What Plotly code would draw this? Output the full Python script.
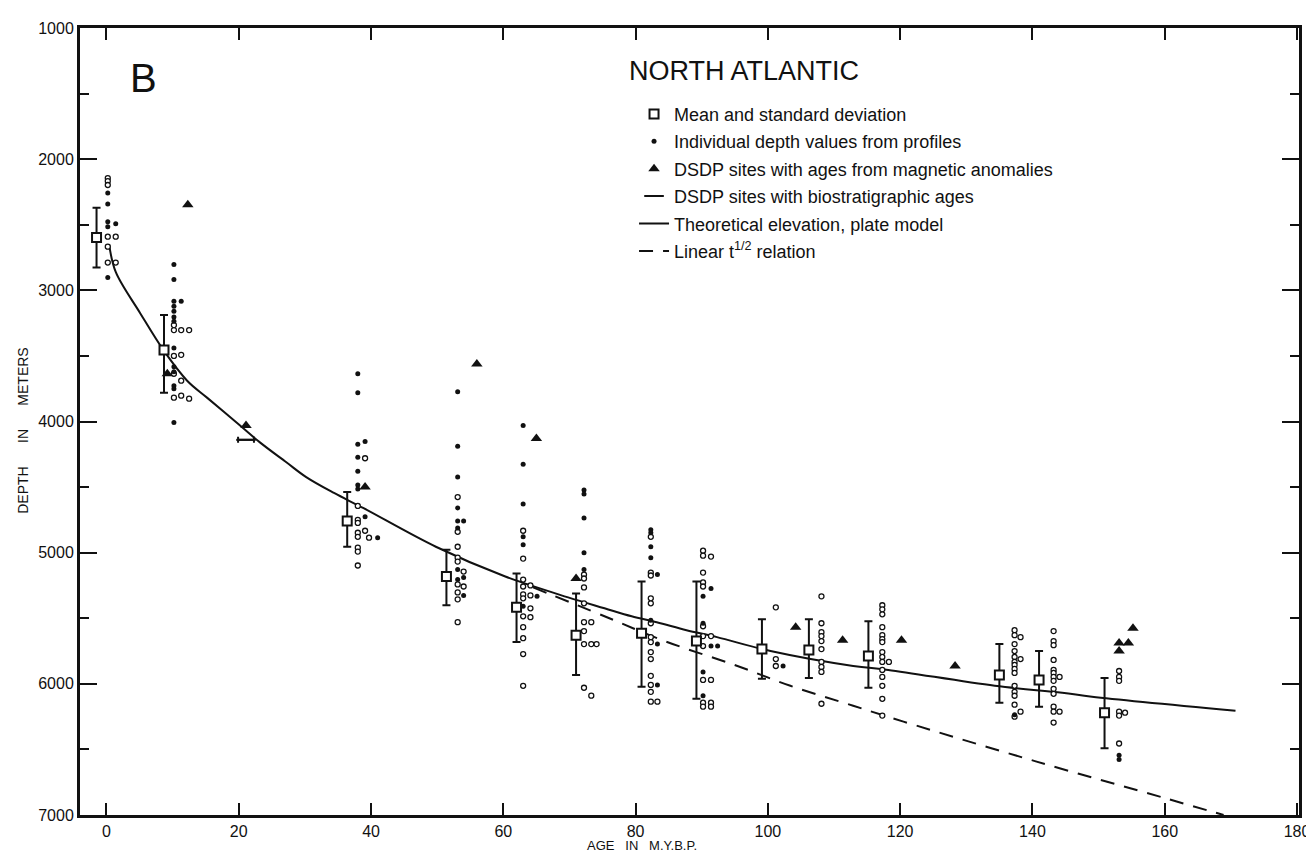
import plotly.graph_objects as go

# ---------------- data ----------------
# Mean and standard deviation (age in m.y., depth in m)
mean_age = [-1.5, 8.7, 36.4, 51.4, 62.0, 71.0, 80.9, 89.2, 99.1, 106.2, 115.2, 135.0, 141.0, 150.9]
mean_depth = [2598, 3455, 4758, 5182, 5417, 5629, 5614, 5674, 5735, 5742, 5788, 5932, 5970, 6220]
sd_top = [2371, 3189, 4538, 4977, 5159, 5311, 5220, 5220, 5508, 5508, 5523, 5697, 5750, 5955]
sd_bottom = [2826, 3780, 4955, 5401, 5682, 5932, 6023, 6114, 5962, 5955, 6030, 6144, 6174, 6492]

# Individual depth values from profiles (filled dots), grouped by column age
filled_col_age = [0.2, 1.4, 10.2, 11.3, 38.0, 39.1, 41.0, 53.1, 54.0, 63.0, 65.1, 72.2,
                  82.3, 83.3, 90.2, 91.4, 92.4, 102.3, 137.3, 153.1]
filled_col_depth = [
    [2258, 2341, 2477, 2515, 2902],
    [2492],
    [2803, 2917, 3083, 3121, 3159, 3204, 3235, 3439, 3583, 3621, 3727, 3750, 4008],
    [3083],
    [3636, 3780, 4174, 4273, 4379, 4485, 4515],
    [4152, 4727],
    [4886],
    [3773, 4189, 4424, 4659, 4758, 4811, 5129, 5205],
    [4758, 5189, 5326],
    [4030, 4326, 4629, 4879, 4939, 5409],
    [5333],
    [4523, 4553, 4735, 5000, 5129],
    [4826, 4848, 4955, 5038, 5515],
    [5167, 5697, 6008],
    [5333, 5538, 5909, 6091],
    [5273, 5712],
    [5712],
    [5864],
    [6235],
    [6545, 6576],
]

# Individual depth values from profiles (open dots), grouped by column age
open_col_age = [0.2, 1.4, 10.2, 11.3, 12.5, 38.0, 39.1, 39.7, 53.1, 54.0, 63.0, 64.1, 72.2,
                73.3, 74.1, 82.3, 83.3, 90.2, 91.4, 101.2, 108.1, 117.3, 118.3, 137.3,
                138.2, 143.2, 144.1, 153.1, 154.0]
open_col_depth = [
    [2144, 2167, 2197, 2591, 2667, 2788],
    [2591, 2788],
    [3265, 3303, 3500, 3636, 3818],
    [3303, 3492, 3689, 3803],
    [3303, 3826],
    [4644, 4750, 4773, 4848, 4879, 4962, 4992, 5098],
    [4280, 4833],
    [4886],
    [4576, 4841, 4955, 5038, 5068, 5242, 5303, 5356, 5530],
    [5144, 5258],
    [4833, 5045, 5205, 5258, 5318, 5348, 5485, 5568, 5652, 5773, 6015],
    [5250, 5326, 5424, 5492],
    [5167, 5197, 5265, 5386, 5530, 5598, 5697, 6030],
    [5530, 5697, 6090],
    [5697],
    [4879, 5152, 5174, 5348, 5386, 5538, 5644, 5682, 5758, 5811, 5939, 6008, 6061, 6136],
    [6136],
    [4985, 5023, 5152, 5227, 5258, 5561, 5636, 5712, 5970, 6144, 6174],
    [5030, 5636, 5970, 6144, 6174],
    [5417, 5811, 5864],
    [5333, 5538, 5606, 5636, 5674, 5735, 5833, 5871, 5909, 6152],
    [5401, 5432, 5470, 5568, 5629, 5659, 5682, 5758, 5795, 5833, 5894, 5947, 6015, 6114, 6242],
    [5833],
    [5591, 5629, 5697, 5750, 5795, 5833, 5856, 5886, 5917, 6015, 6061, 6091, 6159, 6250],
    [5644, 5811, 6212],
    [5598, 5674, 5705, 5818, 5894, 5917, 5947, 5977, 6038, 6076, 6174, 6212, 6295],
    [5947, 6212],
    [5902, 5947, 5977, 6212, 6242, 6455],
    [6220],
]

# DSDP sites with ages from magnetic anomalies
mag_age = [9.2, 12.3, 21.1, 39.1, 56.0, 65.0, 71.0, 104.2, 111.3, 120.2, 128.3, 153.1, 154.5, 153.1, 155.2]
mag_depth = [3636, 2348, 4030, 4500, 3561, 4129, 5197, 5568, 5667, 5667, 5864, 5689, 5689, 5750, 5576]

# DSDP sites with biostratigraphic ages (age range as half-width)
bio_age = [21.1]
bio_depth = [4140]
bio_halfrange = [1.2]

# Theoretical elevation, plate model
plate_age = [0.4, 1.4, 5.1, 8.7, 12.2, 15.2, 20.2, 23.2, 27.2, 30.2, 34.4, 38.8, 49.8, 60.3,
             69.8, 75.3, 79.4, 83.2, 87.7, 92.3, 100.4, 112.9, 118.2, 134.3, 144.5, 149.0, 170.7]
plate_depth = [2650, 2860, 3174, 3462, 3689, 3818, 4030, 4159, 4311, 4424, 4545, 4659, 4955, 5182,
               5341, 5424, 5485, 5530, 5591, 5644, 5750, 5864, 5894, 6015, 6068, 6098, 6205]

# Linear t^1/2 relation (visible part)
lin_age = [64.5, 75.3, 84.4, 95.4, 103.4, 112.9, 120.5, 140.5, 160.0, 168.9]
lin_depth = [5265, 5485, 5674, 5864, 6015, 6167, 6288, 6591, 6871, 7000]

x_ticks = [0, 20, 40, 60, 80, 100, 120, 140, 160, 180]
y_ticks = [1000, 2000, 3000, 4000, 5000, 6000, 7000]


def flatten(col_age, col_depth):
    xs, ys = [], []
    for a, ds in zip(col_age, col_depth):
        for d in ds:
            xs.append(a)
            ys.append(d)
    return xs, ys


filled_x, filled_y = flatten(filled_col_age, filled_col_depth)
open_x, open_y = flatten(open_col_age, open_col_depth)

FONT = "Liberation Sans"
BLACK = "#111111"
SP = "&nbsp;" * 6

fig = go.Figure()

fig.add_trace(go.Scatter(
    x=plate_age, y=plate_depth, mode="lines", line=dict(color=BLACK, width=2, shape="spline"),
    name="Theoretical elevation, plate model", legendgroup="e", legendrank=5))

fig.add_trace(go.Scatter(
    x=lin_age, y=lin_depth, mode="lines",
    line=dict(color=BLACK, width=2, dash="14px,10px", shape="spline"),
    name="Linear t<sup>1/2</sup> relation", legendgroup="f", legendrank=6))

fig.add_trace(go.Scatter(
    x=open_x, y=open_y, mode="markers",
    marker=dict(symbol="circle", size=5, color="white", line=dict(color=BLACK, width=1.3)),
    name="Individual depth values from profiles", legendgroup="b", showlegend=False))

fig.add_trace(go.Scatter(
    x=filled_x, y=filled_y, mode="markers",
    marker=dict(symbol="circle", size=5, color=BLACK),
    name="Individual depth values from profiles", legendgroup="b", legendrank=2))

fig.add_trace(go.Scatter(
    x=mag_age, y=mag_depth, mode="markers",
    marker=dict(symbol="triangle-up", size=10, color=BLACK),
    name="DSDP sites with ages from magnetic anomalies", legendgroup="c", legendrank=3))

fig.add_trace(go.Scatter(
    x=bio_age, y=bio_depth, mode="markers",
    marker=dict(symbol="line-ew-open", size=14, color=BLACK, line=dict(color=BLACK, width=2)),
    error_x=dict(type="data", array=bio_halfrange, color=BLACK, thickness=2, width=3),
    name="DSDP sites with biostratigraphic ages", legendgroup="d", legendrank=4))

fig.add_trace(go.Scatter(
    x=mean_age, y=mean_depth, mode="markers",
    marker=dict(symbol="square", size=9, color="white", line=dict(color=BLACK, width=2)),
    error_y=dict(type="data", symmetric=False,
                 array=[b - m for b, m in zip(sd_bottom, mean_depth)],
                 arrayminus=[m - t for t, m in zip(sd_top, mean_depth)],
                 color=BLACK, thickness=2, width=4),
    name="Mean and standard deviation", legendgroup="a", legendrank=1))

fig.update_layout(
    width=1314, height=855, autosize=False,
    margin=dict(l=72, r=16, t=15, b=48),
    paper_bgcolor="white", plot_bgcolor="white",
    font=dict(family=FONT, color=BLACK, size=16),
    showlegend=True,
    legend=dict(x=0.4545, y=0.914, xanchor="left", yanchor="top",
                bgcolor="rgba(0,0,0,0)", font=dict(family=FONT, size=18, color=BLACK),
                tracegroupgap=1, itemwidth=30),
    xaxis=dict(range=[-4, 180.3], tickmode="array", tickvals=x_ticks,
               ticktext=[str(v) for v in x_ticks],
               ticks="inside", ticklen=12, tickwidth=2, tickcolor=BLACK,
               showline=True, linewidth=3, linecolor=BLACK, mirror="ticks",
               showgrid=False, zeroline=False, tickfont=dict(size=16, family=FONT)),
    yaxis=dict(range=[7000, 1000], tickmode="array", tickvals=y_ticks,
               ticktext=[str(v) for v in y_ticks],
               ticks="inside", ticklen=17, tickwidth=2, tickcolor=BLACK,
               minor=dict(dtick=500, ticks="inside", ticklen=9, tickwidth=2, tickcolor=BLACK,
                          showgrid=False),
               showline=True, linewidth=3, linecolor=BLACK, mirror="ticks",
               showgrid=False, zeroline=False, tickfont=dict(size=16, family=FONT)),
    annotations=[
        dict(text="B", xref="paper", yref="paper", x=(136 - 72) / 1226, y=1 - (65 - 15) / 792,
             showarrow=False, font=dict(size=40, family=FONT, color=BLACK),
             xanchor="center", yanchor="middle"),
        dict(text="NORTH ATLANTIC", xref="paper", yref="paper", x=(622 - 72) / 1226,
             y=1 - (58 - 15) / 792, showarrow=False, font=dict(size=27, family=FONT, color=BLACK),
             xanchor="left", yanchor="middle"),
        dict(text="DEPTH" + SP + "IN" + SP + "METERS", xref="paper", yref="paper",
             x=(15 - 72) / 1226, y=1 - (420 - 15) / 792, textangle=-90, showarrow=False,
             font=dict(size=14, family=FONT, color=BLACK), xanchor="center", yanchor="middle"),
        dict(text="AGE&nbsp;&nbsp;&nbsp;IN&nbsp;&nbsp;&nbsp;M.Y.B.P.", xref="paper", yref="paper",
             x=(637 - 72) / 1226, y=1 - (838 - 15) / 792, showarrow=False,
             font=dict(size=13, family=FONT, color=BLACK), xanchor="center", yanchor="middle"),
    ],
)

fig.write_html("out.html")
